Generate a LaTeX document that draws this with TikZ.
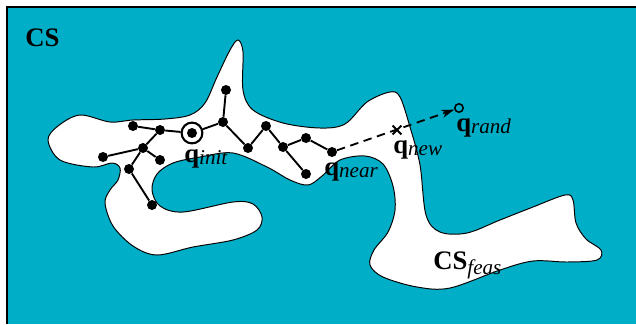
\documentclass[tikz,border=0pt]{standalone}
\usepackage{fontspec}
\setmainfont{Liberation Serif}
\usepackage{tikz}
\usetikzlibrary{arrows.meta,shapes.misc}
\definecolor{csblue}{RGB}{0,174,200}
\newcommand{\qlab}[1]{\textbf{q}\raisebox{-2pt}{\fontsize{15}{15}\selectfont\itshape #1}}

\begin{document}
\begin{tikzpicture}[x=0.025cm,y=-0.025cm,
  vtx/.style={circle,fill=black,inner sep=0pt,minimum size=0.25cm},
  lbl/.style={inner sep=0pt,anchor=base west,font=\fontsize{19}{19}\selectfont}]
  \useasboundingbox (0,0) rectangle (636,324);
  \fill[csblue] (7,7) rectangle (636,324);
  \draw[line width=0.8pt] (7,324) -- (7,7) -- (636,7);
  \draw[fill=white,line width=0.7pt] plot[smooth cycle,tension=0.55] coordinates {
    (48,140) (58,126) (80,115) (110,122) (133,120) (165,119) (190,115) (205,103)
    (217,77) (230,50) (238,40) (243,52) (243,90) (253,110) (283,123) (320,128)
    (345,124) (367,102) (390,92) (400,97) (410,127) (420,165) (426,215) (440,232)
    (467,233) (500,220) (533,207) (565,195) (573,200) (576,223) (586,239) (601,250)
    (597,260) (567,262) (533,261) (500,270) (450,288) (417,287) (383,277) (370,265)
    (374,250) (388,232) (395,210) (393,186) (383,164) (365,156) (340,160) (322,176)
    (308,185) (290,180) (267,167) (233,153) (200,157) (173,163) (157,174) (152,190)
    (160,206) (183,212) (233,202) (253,204) (262,217) (257,230) (233,240) (193,247)
    (157,255) (133,246) (113,226) (105,203) (110,190) (118,180) (120,168) (112,163)
    (93,167) (60,160)};

  \node[vtx] (a) at (133,126) {};
  \node[vtx] (b) at (160,130) {};
  \node[vtx] (c) at (223,122) {};
  \node[vtx] (d) at (226,90) {};
  \node[vtx] (e) at (248,148) {};
  \node[vtx] (f) at (266,126) {};
  \node[vtx] (g) at (283,147) {};
  \node[vtx] (h) at (306,138) {};
  \node[vtx] (i) at (306,174) {};
  \node[vtx] (j) at (143,148) {};
  \node[vtx] (k) at (103,157) {};
  \node[vtx] (l) at (160,160) {};
  \node[vtx] (m) at (129,169) {};
  \node[vtx] (n) at (152,205) {};
  \node[vtx] (qn) at (332,152) {};
  \node[vtx] (qi dot) at (192,133) {};
  \node[circle,draw,line width=1.5pt,minimum size=0.52cm,inner sep=0pt] (qi) at (192,133) {};
  \node[cross out,draw,line width=1.4pt,minimum size=0.17cm,inner sep=0pt] (qw) at (397,130) {};
  \node[circle,draw,line width=1.1pt,minimum size=0.21cm,inner sep=0pt] (qr) at (459,108) {};

  \draw[line width=1.35pt] (a) -- (b);
  \draw[line width=1.35pt] (b) -- (qi);
  \draw[line width=1.35pt] (qi) -- (c);
  \draw[line width=1.35pt] (c) -- (d);
  \draw[line width=1.35pt] (c) -- (e);
  \draw[line width=1.35pt] (e) -- (f);
  \draw[line width=1.35pt] (f) -- (g);
  \draw[line width=1.35pt] (g) -- (h);
  \draw[line width=1.35pt] (h) -- (qn);
  \draw[line width=1.35pt] (g) -- (i);
  \draw[line width=1.35pt] (b) -- (j);
  \draw[line width=1.35pt] (j) -- (k);
  \draw[line width=1.35pt] (j) -- (l);
  \draw[line width=1.35pt] (j) -- (m);
  \draw[line width=1.35pt] (m) -- (n);
  \draw[line width=1.3pt,dash pattern=on 6pt off 4pt,-{Stealth[length=0.32cm,width=0.2cm]}] (qn) -- (qr);

  \node[lbl] (cs) at (25,46) {\textbf{CS}};
  \node[lbl] (qi lbl) at (184,162) {\qlab{init}};
  \node[lbl] (qn lbl) at (324,175) {\qlab{near}};
  \node[lbl] (qw lbl) at (393,153) {\qlab{new}};
  \node[lbl] (qr lbl) at (456,131) {\qlab{rand}};
  \node[lbl] (csf) at (433,269) {\textbf{CS}\raisebox{-4pt}{\fontsize{15}{15}\selectfont\itshape feas}};
\end{tikzpicture}
\end{document}
